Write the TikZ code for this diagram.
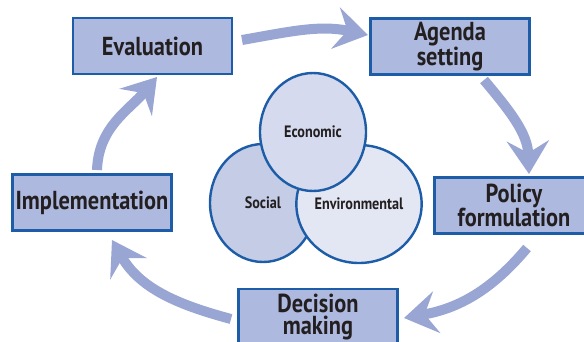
\documentclass[tikz,border=0pt]{standalone}
\usepackage{fontspec}
\setmainfont{PT Sans}[FakeStretch=0.86]
\usetikzlibrary{arrows.meta,shapes.geometric}
\definecolor{boxfill}{HTML}{AEB9DF}
\definecolor{boxline}{HTML}{1D5CA6}
\definecolor{arrowcol}{HTML}{99A6D3}
\definecolor{txt}{HTML}{231F20}
\definecolor{econ}{HTML}{D5DAEE}
\definecolor{soc}{HTML}{C4CCE6}
\definecolor{env}{HTML}{E3E6F3}
\tikzset{
  stagebox/.style={draw=boxline, fill=boxfill, line width=2.6pt, minimum width=159pt, minimum height=56pt,
    inner sep=0pt, align=center, text=txt, font=\bfseries\fontsize{26}{22.5}\selectfont},
  pillar/.style={ellipse, draw=boxline, line width=2.4pt, minimum width=106pt, minimum height=118pt,
    inner sep=0pt, text=txt, font=\bfseries\fontsize{16.5}{18}\selectfont},
  cyclearrow/.style={draw=arrowcol, line width=10pt, -{Stealth[length=33pt,width=42pt,inset=12pt]}}
}
\begin{document}
\begin{tikzpicture}[x=1pt,y=1pt]
\useasboundingbox (0,-341) rectangle (584,0);
% boxes
\node[stagebox] (eval) at (152.5,-46) {Evaluation};
\node[stagebox] (agenda) at (450,-46.5) {Agenda\\setting};
\node[stagebox] (policy) at (514,-205.5) {Policy\\formulation};
\node[stagebox] (decision) at (318,-317) {Decision\\making};
\node[stagebox] (impl) at (92,-202.5) {Implementation};
% circles
\node[pillar, fill=soc] (social) at (263,-203) {Social};
\node[pillar, fill=env] (environ) at (359,-204) {Environmental};
\node[pillar, fill=econ] (econ) at (313,-132) {Economic};
% arrow endpoints
\coordinate (a1s) at (242,-40);
\coordinate (a1e) at (368,-35);
\coordinate (a2s) at (484,-80);
\coordinate (a2e) at (529,-174);
\coordinate (a3s) at (527,-248);
\coordinate (a3e) at (404,-318);
\coordinate (a4s) at (231,-319);
\coordinate (a4e) at (112,-240);
\coordinate (a5s) at (97,-170);
\coordinate (a5e) at (157,-77);
% arrows
\draw[cyclearrow] (a1s) to[out=10,in=168] (a1e);
\draw[cyclearrow] (a2s) to[out=-50,in=92] (a2e);
\draw[cyclearrow] (a3s) to[out=-130,in=10] (a3e);
\draw[cyclearrow] (a4s) to[out=165,in=-60] (a4e);
\draw[cyclearrow] (a5s) to[out=88,in=-130] (a5e);
\end{tikzpicture}
\end{document}
